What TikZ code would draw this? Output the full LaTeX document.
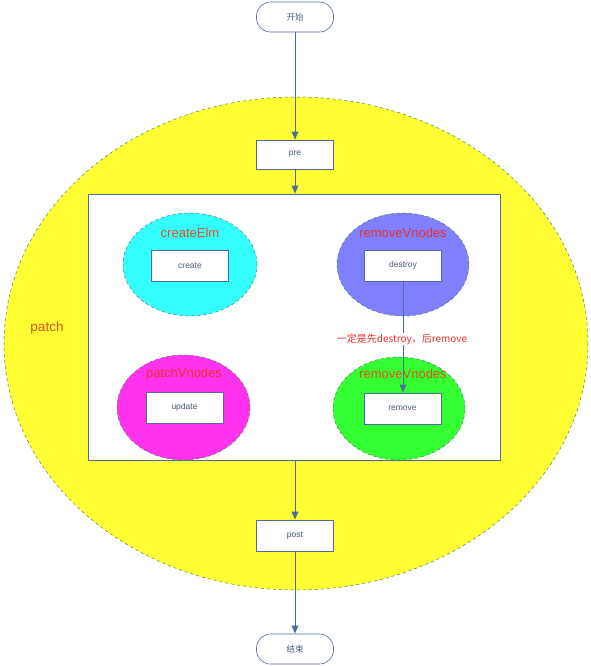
\documentclass[tikz,border=0pt]{standalone}
\usepackage{fontspec}
\setmainfont{Liberation Sans}
\newfontfamily\cjk{Noto Sans CJK SC}
\usetikzlibrary{arrows.meta,shapes.geometric}
\definecolor{arrowc}{HTML}{4A6F9A}
\definecolor{boxc}{HTML}{5468A8}
\definecolor{dashc}{HTML}{4F7A6A}
\definecolor{yel}{HTML}{FFFF33}
\definecolor{cyn}{HTML}{33FFFF}
\definecolor{pur}{HTML}{7F7FFF}
\definecolor{mag}{HTML}{FF33EE}
\definecolor{grn}{HTML}{33FF33}
\definecolor{lblred}{HTML}{E8302A}
\definecolor{lblorg}{HTML}{E0501E}
\definecolor{txtc}{HTML}{4A5A78}
\begin{document}
\begin{tikzpicture}[x=1pt,y=-1pt,
  pill/.style={draw=boxc,line width=0.6pt,fill=white,rounded corners=14pt,minimum width=77pt,minimum height=30pt,font=\cjk\fontsize{8.5}{9}\selectfont,text=txtc,inner sep=0pt},
  procbox/.style={draw=boxc,line width=0.6pt,fill=white,minimum width=77pt,minimum height=30pt,font=\fontsize{8.5}{9}\selectfont,text=txtc,inner sep=0pt},
  blob/.style={ellipse,draw=dashc,dashed,line width=0.5pt,inner sep=0pt},
  grouplbl/.style={font=\fontsize{13}{14}\selectfont,text=lblred,inner sep=0pt},
  conn/.style={draw=arrowc,line width=1pt,-{Triangle[length=8pt,width=6.5pt]}}
]
\useasboundingbox (0,0) rectangle (590,666);
\fill[white] (0,0) rectangle (590,666);
% big patch ellipse
\node[blob,fill=yel,minimum width=584pt,minimum height=493pt] (patchE) at (296,343.5) {};
\node[font=\fontsize{13.5}{14}\selectfont,text=lblorg,inner sep=0pt] (patchL) at (47,328) {patch};
% white rectangle
\node[draw=arrowc,line width=0.6pt,fill=white,minimum width=412pt,minimum height=266pt,inner sep=0pt] (inner) at (294,327) {};
% sub ellipses
\node[blob,fill=cyn,minimum width=134pt,minimum height=103pt] (ceE) at (190,264.5) {};
\node[blob,fill=pur,minimum width=132pt,minimum height=103pt] (rvE1) at (403,264.5) {};
\node[blob,fill=mag,minimum width=133pt,minimum height=105pt] (pvE) at (183.5,407.5) {};
\node[blob,fill=grn,minimum width=132pt,minimum height=103pt] (rvE2) at (399,408.5) {};
\node[grouplbl,text=lblorg] (ceL) at (190,233) {createElm};
\node[grouplbl] (rvL1) at (403,233) {removeVnodes};
\node[grouplbl] (pvL) at (184,374) {patchVnodes};
\node[grouplbl,text=lblorg] (rvL2) at (403,374) {removeVnodes};
% boxes
\node[procbox,minimum height=31pt] (create) at (190,265.5) {create};
\node[procbox,minimum height=31pt] (destroy) at (403,265.5) {destroy};
\node[procbox,minimum height=31pt] (update) at (184.5,407.5) {update};
\node[procbox,minimum height=31pt] (remove) at (402.5,408.5) {remove};
\node[procbox,minimum height=29pt] (pre) at (295,154.5) {pre};
\node[procbox,minimum height=31pt] (post) at (295,535.5) {post};
\node[pill] (start) at (295,17) {开始};
\node[pill] (end) at (295,649) {结束};
% connectors
\draw[conn] (start) -- (pre);
\draw[conn] (pre) -- (pre |- inner.north);
\draw[conn] (post |- inner.south) -- (post);
\draw[conn] (post) -- (end);
\draw[conn] (destroy.south) -- (destroy.south |- remove.north);
\node[font=\cjk\fontsize{10}{11}\selectfont,text=lblred,fill=white,inner sep=1pt] (note) at (402,339) {一定是先destroy，后remove};
\end{tikzpicture}
\end{document}
